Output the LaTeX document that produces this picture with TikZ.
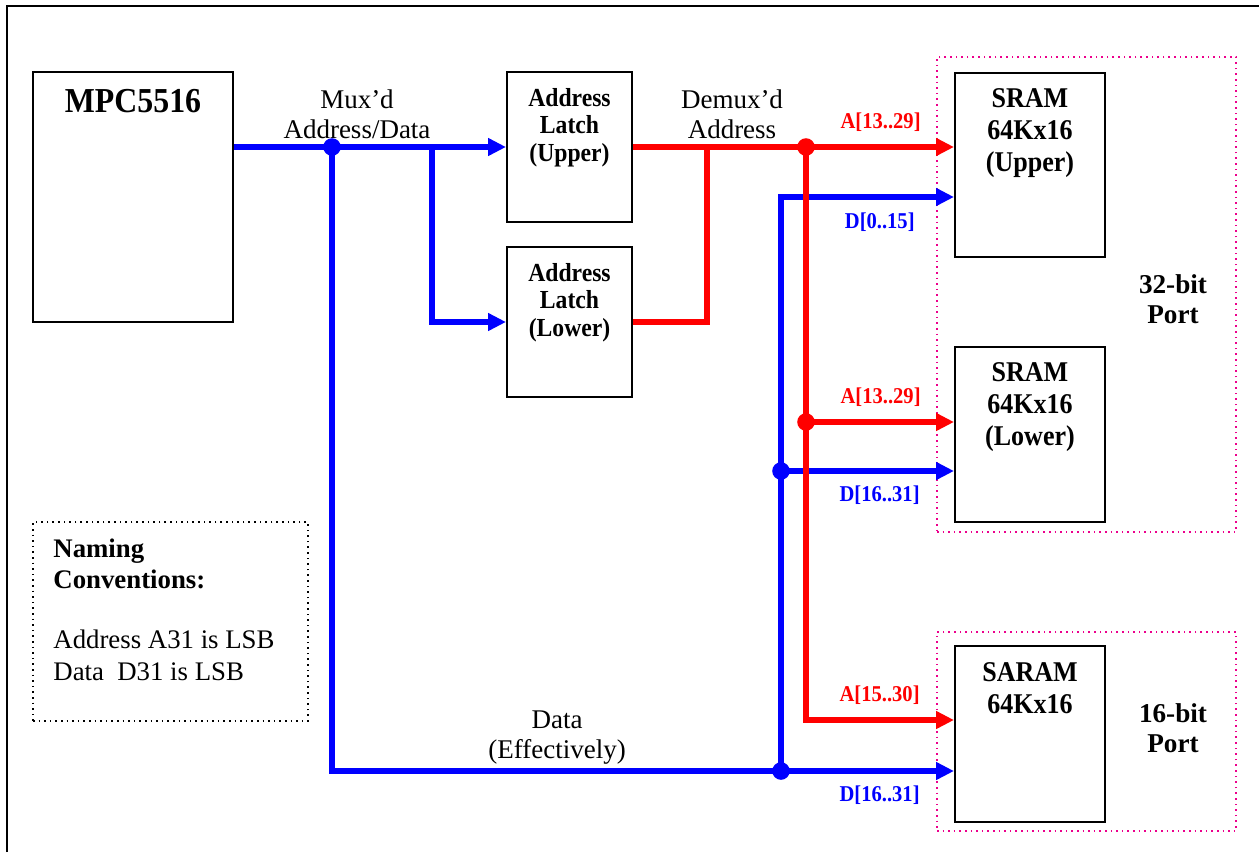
\documentclass[tikz,border=0pt]{standalone}
\usepackage{fontspec}
\setmainfont{Liberation Serif}
\newfontfamily\narrowbf[FakeStretch=0.91]{Liberation Serif}
\usetikzlibrary{arrows.meta, positioning, calc}

\begin{document}
\begin{tikzpicture}[
        x=0.5pt, y=-0.5pt,
        every node/.style={align=center, inner sep=0pt},
        blk/.style={rectangle, draw=black, line width=1pt, minimum width=75pt},
        latch/.style={blk, minimum width=62.5pt, minimum height=75pt},
        port/.style={rectangle, draw=magenta, dotted, line width=0.8pt, minimum width=149.5pt},
        btxt/.style={font=\fontsize{13}{13.75}\selectfont\narrowbf\bfseries},
        stxt/.style={font=\fontsize{14.3}{16}\selectfont\narrowbf\bfseries},
        rtxt/.style={font=\fontsize{13.5}{15}\selectfont},
        rtxtb/.style={font=\fontsize{13.6}{15}\selectfont\bfseries},
        buslbl/.style={anchor=base east, font=\fontsize{11.3}{12}\selectfont\narrowbf\bfseries},
        bus/.style={line width=2.6pt},
        line/.style={bus, -{Triangle[length=9pt, width=8.5pt]}},
        dot/.style={radius=4.4pt}
    ]
        \useasboundingbox (0,0) rectangle (1259,852);
        \draw[line width=1pt] (7,852) -- (7,6) -- (1259,6);

        \node[blk, minimum width=100pt, minimum height=125pt] (mpc) at (133,197) {};
        \node[font=\fontsize{17.5}{19}\selectfont\narrowbf\bfseries, below=9pt of mpc.north] (mpcT) {MPC5516};

        \node[latch] (latU) at (569.5,147) {};
        \node[latch] (latL) at (569.5,322) {};
        \node[btxt, below=8.3pt of latU.north] (latUT) {Address\\Latch\\(Upper)};
        \node[btxt, below=8.3pt of latL.north] (latLT) {Address\\Latch\\(Lower)};

        \node[port, minimum height=237.5pt] (port32) at (1086.5,294.5) {};
        \node[port, minimum height=99.5pt]  (port16) at (1086.5,731.5) {};

        \node[blk, minimum height=92pt]   (sramU) at (1030,165) {};
        \node[blk, minimum height=87.5pt] (sramL) at (1030,434.5) {};
        \node[blk, minimum height=88pt]   (saram) at (1030,734) {};
        \node[stxt, below=8pt of sramU.north] (sramUT) {SRAM\\64Kx16\\(Upper)};
        \node[stxt, below=8pt of sramL.north] (sramLT) {SRAM\\64Kx16\\(Lower)};
        \node[stxt, below=8.4pt of saram.north] (saramT) {SARAM\\64Kx16};

        \node[rtxtb] (p32) at (1173,299) {32-bit\\Port};
        \node[rtxtb] (p16) at (1173,728) {16-bit\\Port};

        \node[rtxt] (muxT)   at (357,114) {Mux’d\\Address/Data};
        \node[rtxt] (demuxT) at (732,114) {Demux’d\\Address};
        \node[rtxt] (dataT)  at (557,738) {Data\\(Effectively)};

        \node[rectangle, draw=black, dotted, line width=0.8pt, minimum width=137.5pt, minimum height=99.5pt] (naming) at (170.5,621.5) {};
        \node[anchor=north west, align=left, font=\fontsize{13.4}{15.5}\selectfont] (namingT) at (53,538)
            {\textbf{Naming}\\\textbf{Conventions:}\\[14.5pt]Address A31 is LSB\\[0.5pt]Data\ \ D31 is LSB};

        \coordinate (jmux)  at (332,147);
        \coordinate (jlat)  at (432,147);
        \coordinate (jdem)  at (707,147);
        \coordinate (jadr)  at (806,147);
        \coordinate (jadrL) at (806,422);
        \coordinate (jadrS) at (806,720);
        \coordinate (jdatU) at (781,197);
        \coordinate (jdatL) at (781,471);
        \coordinate (jdatS) at (781,771);

        \draw[line, blue] (mpc.east |- jmux) -- (latU.west);
        \draw[line, blue] (jlat) |- (latL.west);
        \draw[line, blue] (jmux) |- (saram.west |- jdatS);
        \draw[line, blue] (jdatS) -- (jdatU) -- (sramU.west |- jdatU);
        \draw[line, blue] (jdatL) -- (sramL.west |- jdatL);

        \draw[line, red] (latU.east) -- (sramU.west |- latU.east);
        \draw[bus, red]  (latL.east) -| (jdem);
        \draw[line, red] (jadr) |- (saram.west |- jadrS);
        \draw[line, red] (jadrL) -- (sramL.west |- jadrL);

        \fill[blue] (jmux) circle[dot];
        \fill[blue] (jdatL) circle[dot];
        \fill[blue] (jdatS) circle[dot];
        \fill[red]  (jadr) circle[dot];
        \fill[red]  (jadrL) circle[dot];

        \node[buslbl, red]  (aU) at (921,128)   {A[13..29]};
        \node[buslbl, blue] (dU) at (915,228)   {D[0..15]};
        \node[buslbl, red]  (aL) at (921,403)   {A[13..29]};
        \node[buslbl, blue] (dL) at (920,501.5) {D[16..31]};
        \node[buslbl, red]  (aS) at (920,701.5) {A[15..30]};
        \node[buslbl, blue] (dS) at (920,801.5) {D[16..31]};
    \end{tikzpicture}
\end{document}
